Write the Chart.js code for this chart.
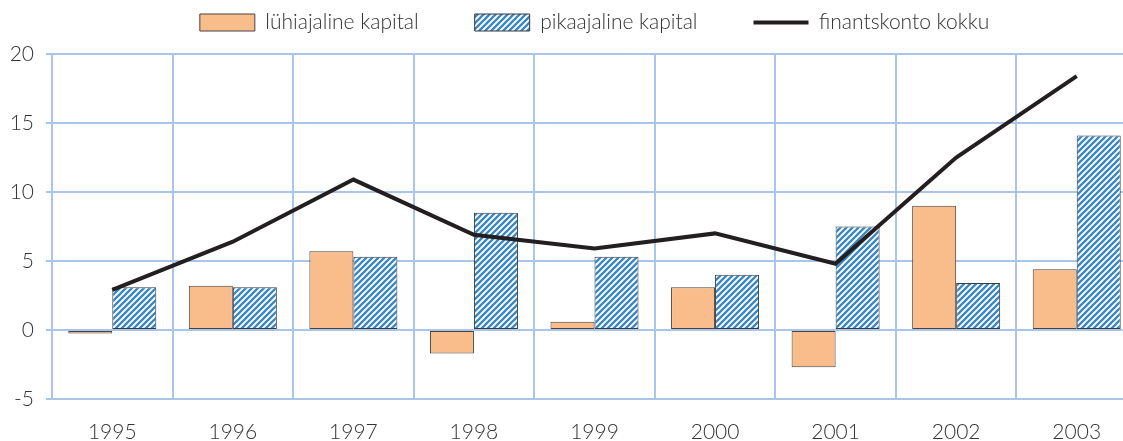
<!DOCTYPE html>
<html lang="et">

<head>
    <meta charset="UTF-8">
    <title>Finantskonto</title>
    <script src="https://cdn.jsdelivr.net/npm/chart.js"></script>
    <style>
        html, body {
            margin: 0;
            padding: 0;
            overflow: hidden;
            background: #fff;
        }

        canvas {
            display: block;
        }
    </style>
</head>

<body>
    <canvas id="myChart" width="1137" height="441"></canvas>

    <script>
        // andmed (loetud pildilt)
        var years = ['1995', '1996', '1997', '1998', '1999', '2000', '2001', '2002', '2003'];
        var luhiajaline = [-0.25, 3.2, 5.7, -1.7, 0.6, 3.1, -2.7, 9.0, 4.4];
        var pikaajaline = [3.1, 3.1, 5.3, 8.5, 5.3, 4.0, 7.5, 3.4, 14.1];
        var kokku = [2.9, 6.4, 10.9, 6.9, 5.9, 7.0, 4.8, 12.5, 18.4];
        var yTicks = [-5, 0, 5, 10, 15, 20];

        var gridColor = '#a9c6ea';
        var textColor = '#333333';
        var fontFamily = 'Lato, "Open Sans", sans-serif';

        // viirutatud muster
        function makeHatch() {
            var c = document.createElement('canvas');
            c.width = 6;
            c.height = 6;
            var g = c.getContext('2d');
            g.fillStyle = '#ffffff';
            g.fillRect(0, 0, 6, 6);
            g.strokeStyle = '#3a87c2';
            g.lineWidth = 2.3;
            g.beginPath();
            g.moveTo(-1, 7); g.lineTo(7, -1);
            g.moveTo(-7, 7); g.lineTo(1, -1);
            g.moveTo(5, 7); g.lineTo(13, -1);
            g.stroke();
            return g.createPattern(c, 'repeat');
        }

        // legendi paigutus
        var legendFix = {
            id: 'legendFix',
            beforeLayout: function (chart) {
                var lg = chart.legend;
                if (lg && !lg._patched) {
                    var f = lg.fit;
                    lg.fit = function () {
                        f.call(this);
                        this.height = 54;
                    };
                    lg._patched = true;
                }
            },
            afterLayout: function (chart) {
                var lg = chart.legend;
                var pad = lg.options.labels.padding;
                lg.top = 12 - pad;
                lg.left += 26;
                lg.right += 26;
            }
        };

        var ctx = document.getElementById('myChart').getContext('2d');
        var myChart = new Chart(ctx, {
            type: 'bar',
            data: {
                labels: years,
                datasets: [{
                    type: 'bar',
                    label: 'lühiajaline kapital',
                    data: luhiajaline,
                    backgroundColor: '#f9bd8b',
                    borderColor: '#4a4040',
                    borderWidth: 1,
                    borderSkipped: false,
                    pointStyle: 'rect',
                    order: 1
                }, {
                    type: 'bar',
                    label: 'pikaajaline kapital',
                    data: pikaajaline,
                    backgroundColor: makeHatch(),
                    borderColor: '#3a3a3a',
                    borderWidth: 1,
                    borderSkipped: false,
                    pointStyle: 'rect',
                    order: 1
                }, {
                    type: 'line',
                    label: 'finantskonto kokku',
                    data: kokku,
                    borderColor: '#231f20',
                    backgroundColor: '#231f20',
                    borderWidth: 4,
                    pointRadius: 0,
                    pointHoverRadius: 0,
                    pointStyle: 'line',
                    pointBorderWidth: 4,
                    pointBorderColor: '#231f20',
                    tension: 0,
                    fill: false,
                    order: 0
                }]
            },
            options: {
                responsive: false,
                animation: false,
                layout: { padding: 0 },
                datasets: {
                    bar: {
                        categoryPercentage: 0.73,
                        barPercentage: 1
                    }
                },
                plugins: {
                    tooltip: { enabled: false },
                    legend: {
                        position: 'top',
                        labels: {
                            usePointStyle: true,
                            pointStyleWidth: 55,
                            boxHeight: 17,
                            padding: 56,
                            color: textColor,
                            font: { family: fontFamily, size: 21, weight: 300 },
                            sort: function (a, b) { return a.datasetIndex - b.datasetIndex; }
                        }
                    }
                },
                scales: {
                    x: {
                        grid: {
                            offset: true,
                            color: gridColor,
                            lineWidth: 2,
                            drawTicks: false
                        },
                        border: { color: gridColor, width: 2 },
                        ticks: {
                            color: textColor,
                            padding: 21,
                            font: { family: fontFamily, size: 21, weight: 300 }
                        },
                        afterFit: function (scale) { scale.height = 42; }
                    },
                    y: {
                        min: -5,
                        max: 20,
                        afterBuildTicks: function (scale) {
                            scale.ticks = yTicks.map(function (v) { return { value: v }; });
                        },
                        grid: {
                            color: gridColor,
                            lineWidth: 2,
                            tickLength: 6
                        },
                        border: { color: gridColor, width: 2 },
                        ticks: {
                            color: textColor,
                            padding: 12,
                            font: { family: fontFamily, size: 21, weight: 300 }
                        },
                        afterFit: function (scale) { scale.width = 52; }
                    }
                }
            },
            plugins: [legendFix]
        });
    </script>
</body>

</html>
